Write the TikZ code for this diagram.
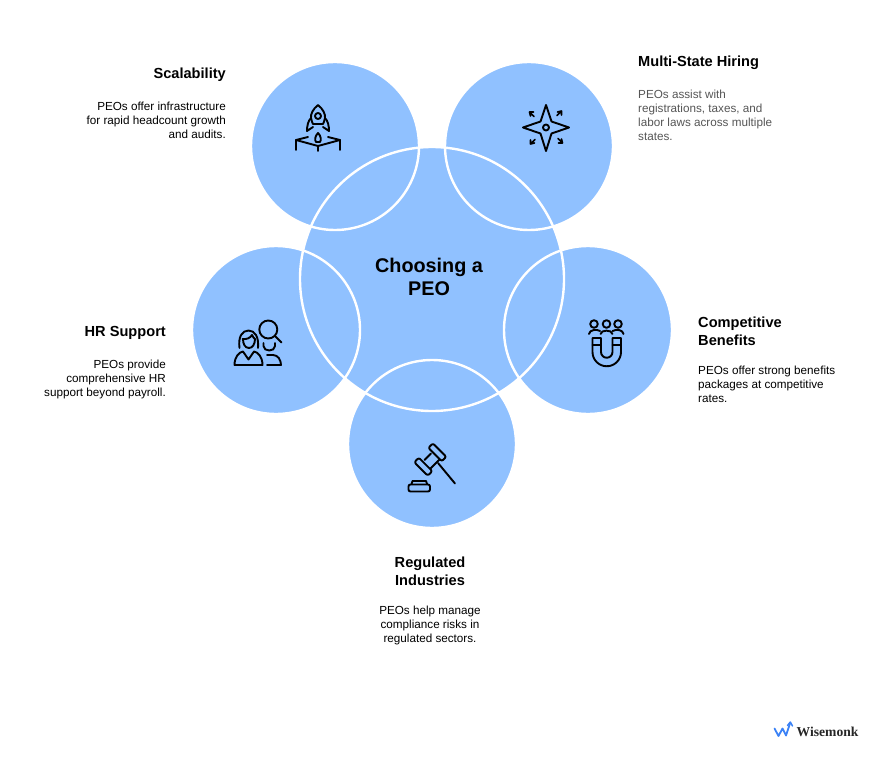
\documentclass[tikz,border=0pt]{standalone}
\usepackage{fontspec}
\setmainfont{Liberation Sans}
\newfontfamily\logofont{Liberation Serif}
\definecolor{petalblue}{HTML}{90C1FF}
\definecolor{logoblue}{HTML}{3B82F6}
\definecolor{bodygrey}{HTML}{555555}
\begin{document}
\begin{tikzpicture}[x=1pt,y=-1pt,
  petal/.style={circle,fill=petalblue,inner sep=0pt,minimum size=168pt},
  hub/.style={circle,fill=petalblue,inner sep=0pt,minimum size=264pt},
  ring/.style={white,line width=2.4pt},
  icon/.style={line width=1.9pt,line cap=round,line join=round,black},
  headtext/.style={inner sep=0pt,font=\fontsize{14.6}{18}\selectfont\bfseries},
  bodytext/.style={inner sep=0pt,font=\fontsize{11.7}{14}\selectfont}]
  \useasboundingbox (0,0) rectangle (891,767);
  % circles
  \foreach \name/\x/\y in {scal/335/146,multi/529/146,hr/276/330,comp/588/330,reg/432/444}
    \node[petal] (\name) at (\x,\y) {};
  \node[hub] (peo) at (432,279) {};
  \foreach \name in {scal,multi,hr,comp,reg}
    \draw[ring] (\name.center) circle (84);
  \draw[ring] (peo.center) circle (132);
  \node[inner sep=0pt,align=center,font=\fontsize{19.8}{23}\selectfont\bfseries] (title) at (429,276.5) {Choosing a\\PEO};
  % labels
  \node[headtext,anchor=base east] (scalhead) at (226,78.5) {Scalability};
  \node[bodytext,anchor=north east,align=right] (scalbody) at (226,102)
    {PEOs offer infrastructure\\for rapid headcount growth\\and audits.};
  \node[headtext,anchor=base west] (multihead) at (638,66.5) {Multi-State Hiring};
  \node[bodytext,anchor=north west,align=left,text=bodygrey] (multibody) at (638,90)
    {PEOs assist with\\registrations, taxes, and\\labor laws across multiple\\states.};
  \node[headtext,anchor=base east] (hrhead) at (166,336) {HR Support};
  \node[bodytext,anchor=north east,align=right] (hrbody) at (166,360)
    {PEOs provide\\comprehensive HR\\support beyond payroll.};
  \node[headtext,anchor=north west,align=left] (comphead) at (698,317) {Competitive\\Benefits};
  \node[bodytext,anchor=north west,align=left] (compbody) at (698,366)
    {PEOs offer strong benefits\\packages at competitive\\rates.};
  \node[headtext,anchor=north,align=center] (reghead) at (430,557) {Regulated\\Industries};
  \node[bodytext,anchor=north,align=center] (regbody) at (430,606)
    {PEOs help manage\\compliance risks in\\regulated sectors.};
  % rocket
  \draw[icon] (318,105) .. controls (313,109) and (310.5,114) .. (311,118)
    .. controls (311.5,121) and (312.5,123) .. (313,124) -- (323,124)
    .. controls (323.5,123) and (324.5,121) .. (325,118)
    .. controls (325.5,114) and (323,109) .. (318,105) -- cycle;
  \draw[icon] (318,116) circle (3);
  \draw[icon] (311,118) .. controls (308,121) and (307,126) .. (307,131) -- (313,127);
  \draw[icon] (325,118) .. controls (328,121) and (329,126) .. (329,131) -- (323,127);
  \draw[icon] (318,133) .. controls (315,136) and (314.5,140) .. (316,142) -- (320,142)
    .. controls (321.5,140) and (321,136) .. (318,133) -- cycle;
  \draw[icon] (308,137) -- (296,140) -- (318,146) -- (340,140) -- (328,137);
  \draw[icon] (296,140) -- (296,150);
  \draw[icon] (340,140) -- (340,150);
  \draw[icon] (318,146) -- (318,151);
  % compass star
  \draw[icon] (546,105) -- (551.5,121.5) -- (569,127.5) -- (551.5,133.5) -- (546,151)
    -- (540.5,133.5) -- (523,127.5) -- (540.5,121.5) -- cycle;
  \draw[icon] (546,127.5) circle (3);
  \foreach \a in {0,90,180,270}
    \draw[icon,shift={(546,127.5)},rotate=\a,line width=1.6pt]
      (-12,-11) -- (-16.5,-15.5) (-15.5,-11.5) -- (-16.5,-15.5) -- (-12.5,-15.5);
  % people and magnifier
  \draw[icon] (268.3,329.5) circle (9);
  \draw[icon] (274.8,335.8) -- (281.5,342.5);
  \draw[icon] (239.5,348) .. controls (238,337) and (242,330.5) .. (248.5,330.5)
    .. controls (255,330.5) and (259,337) .. (258,348);
  \draw[icon] (242.5,339) .. controls (247,339.5) and (250,338) .. (252,335)
    .. controls (253,337) and (254,338.5) .. (255,339);
  \draw[icon] (243,339) .. controls (243,344) and (245,348) .. (249,348)
    .. controls (252.5,348) and (255,344) .. (255,339);
  \draw[icon] (234.5,365) .. controls (234.5,357) and (239,352) .. (243,351.5)
    -- (248.5,359.5) -- (254,351.5) .. controls (258,352) and (262.5,357) .. (262.5,365) -- cycle;
  \draw[icon] (263.5,343) -- (263.5,346) .. controls (263.5,352) and (275,352) .. (275,346) -- (275,343);
  \draw[icon] (267,355) -- (273,355) .. controls (278,355) and (281,360) .. (281,365) -- (267,365);
  % magnet and people
  \foreach \x in {594,606.5,618}
    \draw[icon] (\x,324) circle (3.8);
  \draw[icon] (589,334) .. controls (589.5,329.5) and (597,329) .. (600,331);
  \draw[icon] (600.5,334) .. controls (601,329.5) and (612,329.5) .. (612.5,334);
  \draw[icon] (612.5,331) .. controls (616,329) and (623,329.5) .. (623.5,334);
  \draw[icon] (592.5,338) -- (601,338) -- (601,352) arc[start angle=180,end angle=0,radius=5.75]
    -- (612.5,338) -- (621,338) -- (621,352) arc[start angle=0,end angle=180,radius=14.25] -- cycle;
  \draw[icon] (592.5,345) -- (601,345) (612.5,345) -- (621,345);
  % gavel
  \draw[icon] (438,463) -- (455,483.5);
  \foreach \cx/\cy in {423.3/466.7,437.3/452.3}
    \draw[icon,shift={(\cx,\cy)},rotate=-45,rounded corners=2pt] (-9.5,-3.2) rectangle (9.5,3.2);
  \draw[icon] (424.5,460) -- (431,453.5) (430.5,468.5) -- (439.5,459.5);
  \draw[icon,rounded corners=2pt] (408.5,491.5) rectangle (430,484.5);
  \draw[icon] (411.5,484) -- (412.5,481) -- (426,481) -- (427,484);
  % logo
  \draw[logoblue,line width=1.8pt,line join=round,line cap=round] (774.5,728.5) -- (778.5,736)
    -- (782.5,728.5) -- (786,735.5) -- (790,723.5);
  \draw[logoblue,line width=1.5pt,line cap=round,line join=round] (787.5,725.5) -- (790.3,722) -- (792.5,726);
  \node[inner sep=0pt,anchor=west,font=\logofont\fontsize{13.6}{14}\selectfont\bfseries,text=black!85] (logo) at (796.5,732) {Wisemonk};
\end{tikzpicture}
\end{document}
